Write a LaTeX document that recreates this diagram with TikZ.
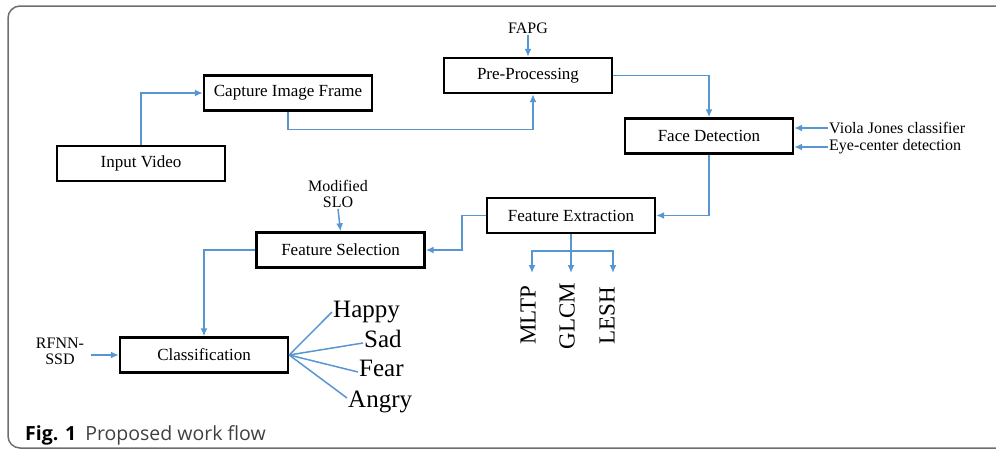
\documentclass[tikz,border=0pt]{standalone}
\usepackage{fontspec}
\setmainfont{Liberation Serif}
\newfontfamily\capfont{Open Sans}
\usetikzlibrary{arrows.meta}
\definecolor{flowblue}{RGB}{88,150,210}
\definecolor{framegray}{RGB}{110,110,110}

\tikzset{
  stage/.style={draw=black,line width=2.4pt,minimum width=168pt,minimum height=35pt,
    inner sep=0pt,font=\fontsize{17}{19}\selectfont},
  flow/.style={draw=flowblue,line width=1.5pt,-{Latex[length=8pt,width=7pt]}},
  branch/.style={draw=flowblue,line width=1.5pt},
  side/.style={font=\fontsize{16}{16}\selectfont,inner sep=1pt,align=center},
  emo/.style={font=\fontsize{25}{26}\selectfont,inner sep=1pt},
  feat/.style={font=\fontsize{23}{24}\selectfont,rotate=90,inner sep=1pt}
}

\begin{document}
\begin{tikzpicture}[x=1pt,y=-1pt]
\useasboundingbox (0,0) rectangle (996,451);
\draw[framegray,line width=1.5pt,rounded corners=12pt] (996,6) -- (8,6) -- (8,448) -- (996,448);

\node[stage] (input) at (141,163.5) {Input Video};
\node[stage] (capture) at (288,93) {Capture Image Frame};
\node[stage] (prep) at (528,75.5) {Pre-Processing};
\node[stage] (face) at (709,136) {Face Detection};
\node[stage] (fext) at (571,215.5) {Feature Extraction};
\node[stage] (fsel) at (340.5,250) {Feature Selection};
\node[stage] (cls) at (204,355) {Classification};

\node[side] (fapg) at (528,28) {FAPG};
\node[side,anchor=west] (viola) at (828,128) {Viola Jones classifier};
\node[side,anchor=west] (eye) at (828,147) {Eye-center detection};
\node[side] (slo) at (338,194) {Modified\\SLO};
\node[side] (rfnn) at (60,351) {RFNN-\\SSD};

\node[emo,anchor=west] (happy) at (332,312) {Happy};
\node[emo,anchor=west] (sad) at (363,339) {Sad};
\node[emo,anchor=west] (fear) at (358,368) {Fear};
\node[emo,anchor=west] (angry) at (347,402) {Angry};

\node[feat] (mltp) at (528,315) {MLTP};
\node[feat] (glcm) at (567,316) {GLCM};
\node[feat] (lesh) at (607,316) {LESH};

% main flow
\draw[flow] (input.north) |- (capture.west);
\draw[flow] (capture.south) -- ++(0,18) -| ([xshift=5pt]prep.south);
\draw[flow] (fapg.south) -- (prep.north);
\draw[flow] (prep.east) -| (face.north);
\draw[flow] (viola.west) -- (viola.west -| face.east);
\draw[flow] (eye.west) -- (eye.west -| face.east);
\draw[flow] (face.south) |- (fext.east);
\draw[flow] (fext.west) -- ++(-24,0) |- (fsel.east);
\draw[flow] (slo.south) -- (fsel.north);
\draw[flow] (fsel.west) -| (cls.north);
\draw[flow] (rfnn.east) ++(6,4) -- (cls.west);

% emotions
\draw[branch] (cls.east) -- (happy.west);
\draw[branch] (cls.east) -- ([yshift=-4pt]sad.west);
\draw[branch] (cls.east) -- ([yshift=-4pt]fear.west);
\draw[branch] (cls.east) -- ([yshift=4pt]angry.west);

% descriptors
\draw[branch] (fext.south) -- ++(0,17) coordinate (split);
\draw[flow] (split) -| (532,273);
\draw[flow] (split) -- (571,273);
\draw[flow] (split) -| (613,273);

\node[anchor=base west,inner sep=0pt] (caption) at (25,440)
  {\capfont\fontsize{19.5}{21}\selectfont\textbf{Fig. 1}\hspace{9pt}{\color{black!75}Proposed work flow}};
\end{tikzpicture}
\end{document}
